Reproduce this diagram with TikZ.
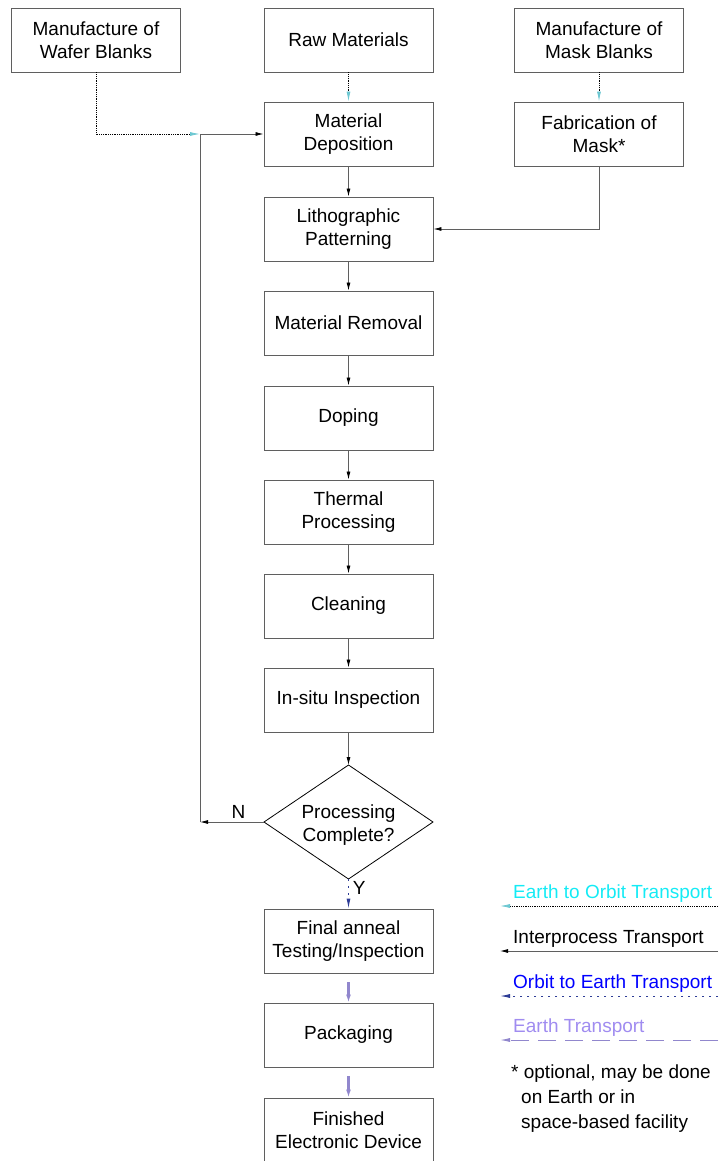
\documentclass[tikz,border=0pt]{standalone}
\usepackage{fontspec}
\setmainfont{Liberation Sans}
\usetikzlibrary{arrows.meta}
\definecolor{boxgray}{RGB}{95,95,95}
\definecolor{tipcyan}{RGB}{110,200,210}
\definecolor{textcyan}{RGB}{20,235,245}
\definecolor{orbitblue}{RGB}{45,60,150}
\definecolor{lavtext}{RGB}{160,140,240}
\definecolor{lavline}{RGB}{145,135,205}
\tikzset{
  procbox/.style={draw=boxgray, line width=0.9pt, minimum width=169pt, minimum height=64pt, inner sep=0pt, align=center},
  flow/.style={draw=boxgray, line width=0.8pt, -{Latex[length=8pt,width=4pt,color=black]}},
  etoo/.style={draw=black, line width=0.8pt, densely dotted, -{Latex[length=10pt,width=4pt,color=tipcyan]}},
  otoe/.style={draw=orbitblue, line width=0.9pt, dash pattern=on 2pt off 5pt, -{Latex[length=10pt,width=4pt,color=orbitblue]}},
  etrans/.style={draw=lavline, line width=2.6pt, -{Latex[length=8pt,width=5pt,color=lavline]}},
  legtext/.style={anchor=west, inner sep=0pt}
}
\begin{document}
\begin{tikzpicture}[x=1pt, y=-1pt, font=\fontsize{19}{23}\selectfont]
\useasboundingbox (0,0) rectangle (718,1161);
% Top row of supply steps
\node[procbox] (wafer) at (96,40) {Manufacture of\\Wafer Blanks};
\node[procbox] (raw) at (348.5,40) {Raw Materials};
\node[procbox] (maskbl) at (599,40) {Manufacture of\\Mask Blanks};
% Main process column
\node[procbox] (dep) at (348.5,134) {Material\\Deposition};
\node[procbox] (fab) at (599,134) {Fabrication of\\Mask*};
\node[procbox] (litho) at (348.5,229) {Lithographic\\Patterning};
\node[procbox] (removal) at (348.5,323) {Material Removal};
\node[procbox] (doping) at (348.5,418) {Doping};
\node[procbox] (thermal) at (348.5,512) {Thermal\\Processing};
\node[procbox] (clean) at (348.5,606) {Cleaning};
\node[procbox] (insitu) at (348.5,700) {In-situ Inspection};
% Decision diamond
\coordinate (dtop) at (348.5,765);
\coordinate (dright) at (433,822);
\coordinate (dbot) at (348.5,879);
\coordinate (dleft) at (264,822);
\draw[black, line width=0.8pt] (dtop) -- (dright) -- (dbot) -- (dleft) -- cycle;
\node[align=center, inner sep=0pt] (decide) at (348.5,825) {Processing\\Complete?};
% Final steps
\node[procbox] (final) at (348.5,941) {Final anneal\\Testing/Inspection};
\node[procbox] (pack) at (348.5,1035) {Packaging};
\node[procbox] (done) at (348.5,1130) {Finished\\Electronic Device};
% Transport into the column
\coordinate (join) at (200,134);
\coordinate (nturn) at (200,822);
\draw[etoo] (raw) -- (dep);
\draw[etoo] (maskbl) -- (fab);
\draw[etoo] (wafer.south) |- (join);
\draw[flow] (join) -- (dep.west);
\draw[flow] (fab.south) |- (litho.east);
% Interprocess steps
\draw[flow] (dep) -- (litho);
\draw[flow] (litho) -- (removal);
\draw[flow] (removal) -- (doping);
\draw[flow] (doping) -- (thermal);
\draw[flow] (thermal) -- (clean);
\draw[flow] (clean) -- (insitu);
\draw[flow] (insitu) -- (dtop);
% Loop back when not complete
\draw[flow] (dleft) -- (nturn) node[pos=0.4, above, inner sep=3pt] (nlabel) {N};
\draw[draw=boxgray, line width=0.8pt] (nturn) -- (join);
% Leaving orbit and on Earth
\draw[otoe] (dbot) -- (final) node[pos=0.3, right, inner sep=4pt] (ylabel) {Y};
\draw[etrans, dash pattern=on 0pt off 9pt on 40pt] (final) -- (pack);
\draw[etrans, dash pattern=on 0pt off 9pt on 40pt] (pack) -- (done);
% Legend
\coordinate (leg1r) at (718,906);
\coordinate (leg1l) at (500,906);
\coordinate (leg2r) at (718,951);
\coordinate (leg2l) at (500,951);
\coordinate (leg3r) at (718,996);
\coordinate (leg3l) at (500,996);
\coordinate (leg4r) at (718,1040);
\coordinate (leg4l) at (500,1040);
\draw[etoo] (leg1r) -- (leg1l);
\draw[flow] (leg2r) -- (leg2l);
\draw[otoe] (leg3r) -- (leg3l);
\draw[draw=lavline, line width=0.9pt, dash pattern=on 18pt off 9pt, -{Latex[length=10pt,width=4pt,color=lavline]}] (leg4r) -- (leg4l);
\node[legtext, text=textcyan] (leg1) at (513,894) {Earth to Orbit Transport};
\node[legtext] (leg2) at (513,939) {Interprocess Transport};
\node[legtext, text=blue] (leg3) at (513,984) {Orbit to Earth Transport};
\node[legtext, text=lavtext] (leg4) at (513,1028) {Earth Transport};
% Footnote
\node[anchor=north west, align=left, inner sep=0pt, font=\fontsize{19}{25}\selectfont] (note) at (511,1065)
  {* optional, may be done\\\hspace*{10pt}on Earth or in\\\hspace*{10pt}space-based facility};
\end{tikzpicture}
\end{document}
